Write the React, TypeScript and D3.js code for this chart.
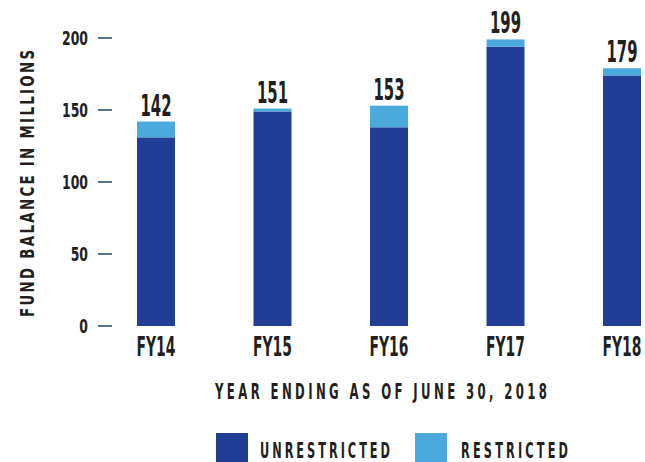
import React, { useEffect, useRef } from 'react';
import * as d3 from 'd3';

const years = ['FY14', 'FY15', 'FY16', 'FY17', 'FY18'];
const unrestricted = [131, 149, 138, 194, 174];
const restricted = [11, 2, 15, 5, 5];
const totals = [142, 151, 153, 199, 179];
const yTicks = [0, 50, 100, 150, 200];

const DARK = '#223d96';
const LIGHT = '#4ba9dc';
const INK = '#231f20';
const FONT = '"DejaVu Sans Condensed", "Liberation Sans Narrow", "Roboto", sans-serif';

const W = 645;
const H = 462;

// squeeze a text's glyphs horizontally so it takes `width` px; optional fixed glyph scale + letter spacing
function squeeze(sel: any, width: (d: any) => number, glyph?: number) {
  sel.each(function (this: SVGTextElement, d: any) {
    const t = d3.select(this);
    const base = t.attr('data-tf') || '';
    const len = this.getComputedTextLength();
    const target = width(d);
    if (glyph) {
      t.attr('transform', `${base} scale(${glyph},1)`);
      t.attr('textLength', target / glyph).attr('lengthAdjust', 'spacing');
    } else {
      t.attr('transform', `${base} scale(${target / len},1)`);
    }
  });
}

export default function App() {
  const ref = useRef<SVGSVGElement>(null);

  useEffect(() => {
    const svg = d3.select(ref.current);
    svg.selectAll('*').remove();

    const x = d3.scaleBand().domain(years).range([78.75, 699.25]).paddingInner(0.674).paddingOuter(0.5);
    const y = d3.scaleLinear().domain([0, 200]).range([326, 38]);

    const rows = years.map((yr, i) => ({ yr, u: unrestricted[i], r: restricted[i], t: totals[i] }));
    const cx = (d: any) => x(d.yr)! + x.bandwidth() / 2;

    // y ticks
    const ticks = svg.append('g');
    ticks.selectAll('line')
      .data(yTicks)
      .join('line')
      .attr('x1', 98).attr('x2', 112)
      .attr('y1', d => y(d)).attr('y2', d => y(d))
      .attr('stroke', '#1d4a63').attr('stroke-width', 1.5);
    const tl = ticks.selectAll('text')
      .data(yTicks)
      .join('text')
      .attr('data-tf', d => `translate(88,${y(d) + 7})`)
      .attr('text-anchor', 'end')
      .attr('font-family', FONT).attr('font-weight', 'bold').attr('font-size', 19)
      .attr('fill', INK)
      .text(d => d);
    squeeze(tl, d => (String(d).length * 26) / 3);

    // bars
    const bars = svg.append('g');
    bars.selectAll('.u')
      .data(rows)
      .join('rect')
      .attr('class', 'u')
      .attr('x', d => x(d.yr)!)
      .attr('width', x.bandwidth())
      .attr('y', d => y(d.u))
      .attr('height', d => y(0) - y(d.u))
      .attr('fill', DARK);
    bars.selectAll('.r')
      .data(rows)
      .join('rect')
      .attr('class', 'r')
      .attr('x', d => x(d.yr)!)
      .attr('width', x.bandwidth())
      .attr('y', d => y(d.u + d.r))
      .attr('height', d => y(d.u) - y(d.u + d.r))
      .attr('fill', LIGHT);

    // value labels
    const vl = svg.append('g').selectAll('text')
      .data(rows)
      .join('text')
      .attr('data-tf', d => `translate(${cx(d)},${y(d.u + d.r) - 6})`)
      .attr('text-anchor', 'middle')
      .attr('font-family', FONT).attr('font-weight', 'bold').attr('font-size', 31)
      .attr('fill', INK)
      .text(d => d.t);
    squeeze(vl, () => 31);

    // category labels
    const cl = svg.append('g').selectAll('text')
      .data(rows)
      .join('text')
      .attr('data-tf', d => `translate(${cx(d)},356)`)
      .attr('text-anchor', 'middle')
      .attr('font-family', FONT).attr('font-weight', 'bold').attr('font-size', 27)
      .attr('fill', INK)
      .text(d => d.yr);
    squeeze(cl, () => 39);

    // axis titles
    const yt = svg.append('text')
      .datum(0)
      .attr('data-tf', 'translate(34,183.5) rotate(-90)')
      .attr('text-anchor', 'middle')
      .attr('font-family', FONT).attr('font-weight', 'bold').attr('font-size', 19)
      .attr('fill', INK)
      .text('FUND BALANCE IN MILLIONS');
    squeeze(yt, () => 267, 0.78);

    const xt = svg.append('text')
      .datum(0)
      .attr('data-tf', 'translate(381,398.5)')
      .attr('text-anchor', 'middle')
      .attr('font-family', FONT).attr('font-weight', 'bold').attr('font-size', 21)
      .attr('fill', INK)
      .text('YEAR ENDING AS OF JUNE 30, 2018');
    squeeze(xt, () => 332, 0.62);

    // legend
    const legend = [
      { label: 'UNRESTRICTED', color: DARK, sx: 216, tx: 260, tw: 130 },
      { label: 'RESTRICTED', color: LIGHT, sx: 415, tx: 461, tw: 107 },
    ];
    const lg = svg.append('g');
    lg.selectAll('rect')
      .data(legend)
      .join('rect')
      .attr('x', d => d.sx).attr('y', 433)
      .attr('width', 32).attr('height', 29)
      .attr('fill', d => d.color);
    const lt = lg.selectAll('text')
      .data(legend)
      .join('text')
      .attr('data-tf', d => `translate(${d.tx},458)`)
      .attr('font-family', FONT).attr('font-weight', 'bold').attr('font-size', 21)
      .attr('fill', INK)
      .text(d => d.label);
    squeeze(lt, d => d.tw, 0.6);
  }, []);

  return (
    <svg ref={ref} width={W} height={H} style={{ position: 'absolute', left: 0, top: 0, background: '#fff' }} />
  );
}
